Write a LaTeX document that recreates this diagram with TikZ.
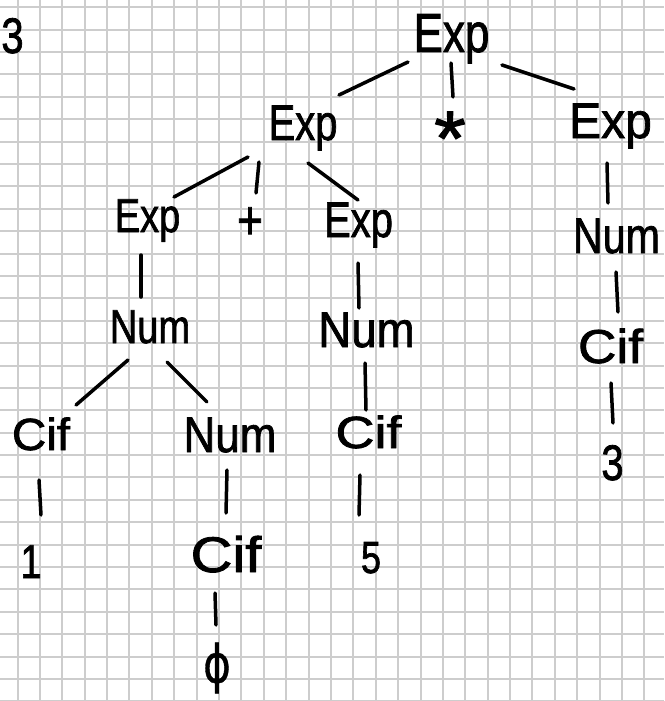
\documentclass[tikz,border=0pt]{standalone}
\usepackage{fontspec}
\setmainfont{Liberation Sans}[FakeBold=1.6]
\newfontfamily\dvfont{DejaVu Sans}[FakeBold=0.8]
\usepackage{graphicx}
\definecolor{ink}{HTML}{000000}
\definecolor{gridgray}{HTML}{CDCDCD}
\newcommand\hwt[3]{\scalebox{#2}[1.25]{\fontsize{#1}{#1}\selectfont #3}}
\begin{document}
\begin{tikzpicture}[x=1pt,y=-1pt,
  lbl/.style={inner sep=0pt, outer sep=0pt, anchor=base, text=ink},
  edge/.style={draw=ink, line width=3.5pt, line cap=round},
  gridline/.style={draw=gridgray, line width=2pt}]
\useasboundingbox (0,0) rectangle (664,701);
\fill[white] (0,0) rectangle (664,701);
\foreach \k in {0,...,28} \draw[gridline] ({17.5+22.39*\k},0) -- ({17.5+22.39*\k},701);
\foreach \k in {0,...,31} \draw[gridline] (0,{7.3+22.39*\k}) -- (664,{7.3+22.39*\k});

% labels
\node[lbl] (tlthree) at (12.5,53) {\hwt{40}{1}{3}};
\node[lbl] (root) at (451.5,52) {\hwt{44}{1}{Exp}};
\node[lbl] (expA) at (303,140) {\hwt{40}{1}{Exp}};
\node[lbl] (star) at (450,165) {\hwt{62}{1.3}{*}};
\node[lbl] (expB) at (610.5,138) {\hwt{40}{1.2}{Exp}};
\node[lbl] (expC) at (147.5,232) {\hwt{38}{1}{Exp}};
\node[lbl] (plus) at (250,239) {\hwt{44}{1}{+}};
\node[lbl] (expD) at (358.5,237) {\hwt{40}{1}{Exp}};
\node[lbl] (numB) at (616.5,253) {\hwt{40}{1.03}{Num}};
\node[lbl] (numC) at (150,343) {\hwt{38}{1}{Num}};
\node[lbl] (numD) at (366.5,347) {\hwt{40}{1.14}{Num}};
\node[lbl] (numE) at (230,452) {\hwt{40}{1.1}{Num}};
\node[lbl] (cifB) at (610.5,363) {\hwt{38}{1.4}{Cif}};
\node[lbl] (cifC) at (41,450) {\hwt{36}{1.32}{Cif}};
\node[lbl] (cifD) at (368.5,448) {\hwt{36}{1.5}{Cif}};
\node[lbl] (cifE) at (226,572) {\hwt{40}{1.45}{Cif}};
\node[lbl] (three) at (612.5,480) {\hwt{40}{1}{3}};
\node[lbl] (one) at (31,578) {\hwt{38}{1}{1}};
\node[lbl] (five) at (371,573) {\hwt{36}{1}{5}};
\node[lbl, anchor=center] (zero) at (217,668) {\scalebox{1}[1.25]{\fontsize{42}{42}\dvfont ϕ}};

% connector end points
\coordinate (a1) at (408,62);  \coordinate (b1) at (339,95);
\coordinate (a2) at (451,63);  \coordinate (b2) at (453,97);
\coordinate (a3) at (502,65);  \coordinate (b3) at (574,89);
\coordinate (a4) at (248,157); \coordinate (b4) at (174,197);
\coordinate (a5) at (259,162); \coordinate (b5) at (256,193);
\coordinate (a6) at (308,163); \coordinate (b6) at (358,200);
\coordinate (a7) at (141,255); \coordinate (b7) at (141,297);
\coordinate (a8) at (358,263); \coordinate (b8) at (359,308);
\coordinate (a9) at (607,163); \coordinate (b9) at (608,203);
\coordinate (a10) at (616,272); \coordinate (b10) at (618,312);
\coordinate (a11) at (611,383); \coordinate (b11) at (613,423);
\coordinate (a12) at (128,360); \coordinate (b12) at (76,405);
\coordinate (a13) at (167,362); \coordinate (b13) at (207,402);
\coordinate (a14) at (39,480); \coordinate (b14) at (41,515);
\coordinate (a15) at (227,470); \coordinate (b15) at (226,513);
\coordinate (a16) at (215,593); \coordinate (b16) at (216,625);
\coordinate (a17) at (365,363); \coordinate (b17) at (366,410);
\coordinate (a18) at (360,475); \coordinate (b18) at (359,515);

\foreach \i in {1,...,18} \draw[edge] (a\i) -- (b\i);
\end{tikzpicture}
\end{document}
